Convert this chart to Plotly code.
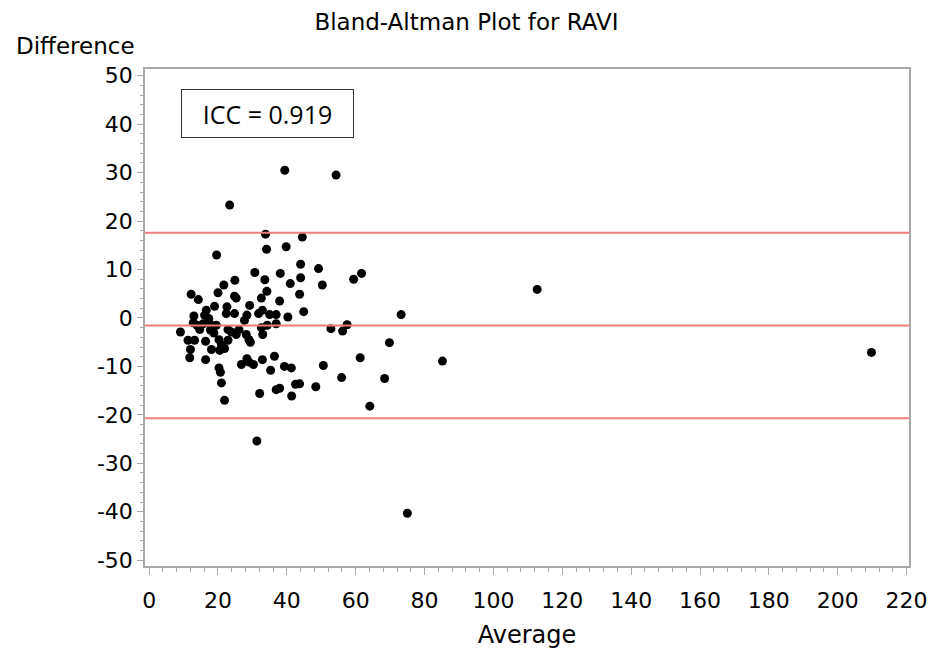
import plotly.graph_objects as go

# Bland-Altman data
average = [
    209.8, 112.7, 75.0, 85.2, 73.2, 69.8, 68.4, 64.1, 61.3, 61.7, 59.4,
    57.5, 56.2, 52.8, 55.9, 50.6, 48.4, 43.7, 54.3, 44.5, 44.0, 49.2, 44.0,
    50.3, 43.7, 44.9,
    39.4, 23.4, 33.8, 34.1, 39.8, 19.6, 30.7, 38.1, 33.6, 24.9, 21.7, 41.0,
    12.2, 14.3, 20.0, 24.8, 25.3, 34.2, 32.6, 37.9,
    13.0, 16.6, 16.1, 17.3, 19.0, 22.6, 22.4, 24.8, 29.2, 28.4, 27.7, 31.8,
    32.9, 35.0, 36.9, 40.3, 36.9, 34.3, 32.6, 33.0, 9.1, 12.8, 13.9, 14.7,
    15.7, 17.6, 19.5, 17.8, 18.8, 22.9, 23.9, 26.1, 25.3, 28.2, 29.0, 29.4,
    11.3, 13.2, 16.4, 20.3, 22.9, 21.0, 21.9, 18.1, 20.5, 12.0, 11.8, 16.4,
    26.8, 28.4, 29.0, 30.3, 32.9, 36.4, 35.3, 39.3, 41.3, 20.3, 20.7, 21.0,
    21.9, 32.1, 36.9, 37.9, 42.5, 41.4, 31.3,
]
difference = [
    -7.1, 5.9, -40.3, -8.9, 0.7, -5.1, -12.5, -18.2, -8.2, 9.2, 8.0,
    -1.4, -2.7, -2.2, -12.3, -9.8, -14.2, -13.6, 29.5, 16.7, 11.1, 10.2, 8.3,
    6.8, 4.9, 1.3,
    30.5, 23.3, 17.3, 14.2, 14.7, 13.0, 9.4, 9.2, 7.9, 7.8, 6.8, 7.1,
    4.9, 3.8, 5.2, 4.5, 4.1, 5.5, 4.1, 3.5,
    0.4, 1.6, 0.6, -0.1, 2.4, 2.3, 0.9, 0.9, 2.6, 0.6, -0.5, 0.9,
    1.6, 0.7, 0.7, 0.2, -1.2, -1.5, -2.0, -3.4, -2.9, -1.0, -1.5, -2.4,
    -1.2, -1.2, -1.5, -2.5, -3.1, -2.4, -2.9, -2.4, -3.4, -3.4, -4.5, -5.0,
    -4.6, -4.6, -4.8, -4.5, -4.6, -5.6, -6.3, -6.5, -6.7, -6.5, -8.2, -8.6,
    -9.6, -8.4, -9.1, -9.6, -8.6, -7.9, -10.8, -10.0, -10.3, -10.3, -11.2, -13.4,
    -17.0, -15.6, -14.8, -14.5, -13.7, -16.1, -25.4,
]

# Mean difference and limits of agreement
limit_names = ["upper", "mean", "lower"]
limit_values = [17.6, -1.55, -20.7]

x_ticks = [0, 20, 40, 60, 80, 100, 120, 140, 160, 180, 200, 220]
y_ticks = [-50, -40, -30, -20, -10, 0, 10, 20, 30, 40, 50]

title_text = "Bland-Altman Plot for RAVI"
x_title = "Average"
y_title = "Difference"
icc_text = "ICC = 0.919"

W, H = 933, 650
L, R, T, B = 145, 24, 69, 84
pw, ph = W - L - R, H - T - B

fig = go.Figure()
fig.add_trace(go.Scatter(
    x=average, y=difference, mode="markers",
    marker=dict(color="black", size=9, line=dict(width=0)),
    showlegend=False, hoverinfo="x+y",
))

for v in limit_values:
    fig.add_shape(type="line", xref="paper", x0=0, x1=1, yref="y", y0=v, y1=v,
                  line=dict(color="#f27b7b", width=2), layer="above")

axis_gray = "#a8a8a8"
font_main = "DejaVu Sans"

fig.update_xaxes(
    range=[-1.2, 220.7], tickvals=x_ticks, ticktext=[str(t) for t in x_ticks],
    showgrid=False, zeroline=False, showline=True, mirror=True,
    linecolor=axis_gray, linewidth=1.5, automargin=False,
    ticks="outside", ticklen=7, tickwidth=1, tickcolor=axis_gray,
    minor=dict(ticks="outside", ticklen=4, dtick=4, tickcolor=axis_gray, showgrid=False),
    tickfont=dict(family=font_main, size=22, color="black"), ticklabelstandoff=7,
    title=dict(text=x_title, font=dict(family=font_main, size=24, color="black"), standoff=14),
)
fig.update_yaxes(
    range=[-51.2, 51.4], tickvals=y_ticks, ticktext=[str(t) for t in y_ticks],
    showgrid=False, zeroline=False, showline=True, mirror=True,
    linecolor=axis_gray, linewidth=1.5, automargin=False,
    ticks="outside", ticklen=6, tickwidth=1, tickcolor=axis_gray,
    minor=dict(ticks="outside", ticklen=3, dtick=2, tickcolor=axis_gray, showgrid=False),
    tickfont=dict(family=font_main, size=22, color="black"),
)

fig.add_annotation(
    text=y_title, xref="paper", yref="paper",
    x=(14 - L) / pw, y=(H - B - 46) / ph, xanchor="left", yanchor="middle",
    showarrow=False, font=dict(family=font_main, size=23, color="black"),
)

fig.add_annotation(
    text=icc_text, xref="paper", yref="paper",
    x=(181 - L) / pw, y=(H - B - 89) / ph, xanchor="left", yanchor="top",
    showarrow=False, font=dict(family="Open Sans", size=25, color="black"),
    bordercolor="#333333", borderwidth=1, borderpad=0,
    width=171, height=47, align="center", bgcolor="white",
)

fig.update_layout(
    width=W, height=H,
    margin=dict(l=L, r=R, t=T, b=B, autoexpand=False),
    paper_bgcolor="white", plot_bgcolor="white",
    title=dict(text=title_text, x=0.5, xanchor="center", y=1 - 22 / H, yanchor="middle",
               yref="container", font=dict(family=font_main, size=23, color="black")),
)

fig.write_html("out.html", config={"displayModeBar": False},
               post_script="document.body.style.margin='0';")
